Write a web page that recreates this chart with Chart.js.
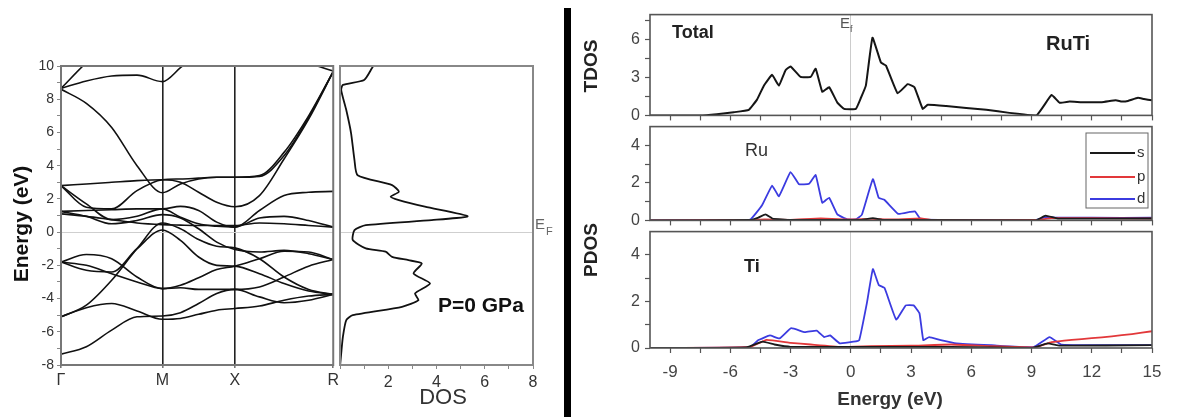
<!DOCTYPE html>
<html><head><meta charset="utf-8">
<script src="https://cdn.jsdelivr.net/npm/chart.js@4.4.1/dist/chart.umd.min.js"></script>
<style>
body{margin:0;background:#fff;width:1177px;height:417px;overflow:hidden;position:relative}
canvas{position:absolute}
#bar{position:absolute;left:564px;top:8px;width:7px;height:409px;background:#000}
</style></head><body>
<canvas id="cBand" width="342" height="417" style="left:0;top:0"></canvas>
<canvas id="cDos" width="230" height="417" style="left:336px;top:0"></canvas>
<div id="bar"></div>
<canvas id="cT" width="605" height="130" style="left:572px;top:0"></canvas>
<canvas id="cRu" width="605" height="123" style="left:572px;top:112px"></canvas>
<canvas id="cTi" width="605" height="200" style="left:572px;top:217px"></canvas>
<script>
// ---------- band structure data ----------
const kPositions = [0, 25.5, 51, 76.5, 102, 120.25, 138.5, 156.75, 175, 199.75, 224.5, 249.25, 274];
const kTickPositions = [0, 102, 175, 274];
const kTickLabels = ['Γ', 'M', 'X', 'R'];
const band1  = [-7.35,-6.9,-5.9,-5.1,-5.05, -4.85,-4.3,-3.7,-3.45, -3.9,-4.25,-4.1,-3.75];
const band2  = [-5.1,-4.55,-4.3,-4.75,-5.25, -5.2,-4.95,-4.7,-4.6, -4.45,-4.1,-3.85,-3.75];
const band3  = [-5.1,-4.4,-2.9,-1.0,0.55, 0.2,-0.45,-0.85,-0.95, -1.6,-2.7,-3.45,-3.75];
const band4  = [-1.8,-1.35,-1.6,-2.7,-3.4, -3.2,-2.75,-2.25,-2.05, -1.6,-1.15,-1.2,-1.65];
const band5  = [-1.8,-2.0,-2.5,-3.0,-3.4, -3.35,-3.45,-3.45,-3.45, -3.3,-2.7,-2.05,-1.65];
const band6  = [-1.8,-2.3,-2.4,-1.0,0.13, -0.5,-1.5,-2.0,-2.05, -2.5,-3.1,-3.55,-3.75];
const band7  = [1.25,0.95,0.5,0.7,1.05, 0.85,0.2,-0.6,-1.05, -1.2,-1.1,-1.3,-1.65];
const band8  = [1.25,1.3,1.35,1.4,1.4, 1.55,1.3,0.6,0.3, 1.3,2.2,2.4,2.45];
const band9  = [1.1,0.95,0.75,0.55,0.45, 0.42,0.4,0.4,0.4, 0.55,0.5,0.4,0.3];
const band10 = [2.8,1.7,0.75,0.95,1.4, 0.9,0.5,0.35,0.3, 0.85,0.95,0.7,0.3];
const band11 = [2.8,2.9,3.0,3.1,3.15, 3.0,2.4,1.8,1.53, 2.2,4.4,6.8,9.66];
const band12 = [8.6,7.75,6.3,4.0,2.37, 2.9,3.2,3.3,3.3, 3.4,4.8,7.0,9.66];
const band13 = [2.8,1.5,1.4,2.5,3.15, 3.2,3.25,3.3,3.3, 3.35,4.6,6.9,9.66];
const band14 = [8.65,9.1,9.4,9.45,9.06, 9.9,10.8,11.5,12, 12,11,10.2,9.7];
const band15 = [8.65,10.2,11.5,12,12.5, 13,13,13,13, 13,13,12,11];
const bandList = [band1,band2,band3,band4,band5,band6,band7,band8,band9,band10,band11,band12,band13,band14,band15];

// ---------- total DOS (left panel) ----------
const dosEnergy = [10.3,9.86,9.16,8.86,8.55,7.35,5.95,4.34,3.43,2.83,2.43,2.13,1.93,1.53,0.96,0.72,0.42,0.12,-0.48,-0.98,-1.18,-1.49,-1.69,-1.89,-2.49,-3.09,-3.69,-4.1,-4.5,-5.0,-5.3,-6.3,-7.3,-8.1];
const dosValue  = [1.5,1.32,1.0,0.12,0.05,0.26,0.46,0.6,0.73,2.16,2.44,2.1,2.44,3.52,5.29,3.8,1.07,0.6,0.53,1.07,1.89,2.16,2.84,3.39,3.05,3.73,3.11,3.25,2.57,0.53,0.26,0.12,0.05,0.0];
const dosTicks = [0,1,2,3,4,5,6,7,8];
const energyTicksLeft = [-8,-7,-6,-5,-4,-3,-2,-1,0,1,2,3,4,5,6,7,8,9,10];

// ---------- right panels ----------
const energyTicks = [-9,-7.5,-6,-4.5,-3,-1.5,0,1.5,3,4.5,6,7.5,9,10.5,12,13.5,15];
const tdosTicks = [0,1.5,3,4.5,6,7.5];
const pdosTicks = [0,1,2,3,4];
const tdosE = [-10,-7.5,-6.67,-5.83,-5.08,-4.67,-4.33,-3.92,-3.58,-3.25,-3.0,-2.5,-2.0,-1.75,-1.42,-1.08,-0.67,-0.33,0.25,0.5,0.75,1.08,1.5,1.75,2.33,2.83,3.17,3.58,3.83,4.75,6.75,7.9,9.25,10.0,10.4,10.9,11.5,12.5,13.2,13.5,13.8,14.3,14.6,15];
const tdosV = [0,0,0.1,0.25,0.44,1.25,2.36,3.22,2.36,3.59,3.88,3.05,3.05,3.71,1.87,2.24,1.01,0.52,0.52,1.38,2.36,6.17,4.2,3.96,1.75,2.48,2.24,0.52,0.84,0.74,0.44,0.2,0.0,1.62,1.0,1.1,1.05,1.05,1.2,1.1,1.15,1.4,1.3,1.2];
const ruSE = [-10,-5,-4.6,-4.25,-3.9,-3,0.5,1.1,1.6,3,9.2,9.7,10.3,15];
const ruSV = [0,0.02,0.15,0.32,0.1,0.03,0.03,0.12,0.03,0.02,0.0,0.25,0.1,0.1];
const ruPE = [-10,-5,-4.3,-3,-1.5,0,1,2,3.5,4,9.2,10,12,15];
const ruPV = [0,0.02,0.05,0.03,0.1,0.05,0.08,0.05,0.1,0.03,0.02,0.12,0.12,0.1];
const ruDE = [-10,-6,-5.0,-4.42,-3.92,-3.58,-3.0,-2.58,-2.08,-1.75,-1.42,-1.08,-0.67,-0.17,0.25,0.55,1.1,1.39,1.67,2.36,2.94,3.2,3.5,5,9.2,9.7,10.2,12,15];
const ruDV = [0,0.02,0.05,0.81,1.85,1.29,2.58,1.93,1.95,2.42,0.94,1.21,0.32,0.05,0.05,0.3,2.2,1.2,1.1,0.35,0.45,0.48,0.05,0.03,0.02,0.18,0.15,0.14,0.14];
const tiSE = [-10,-5.2,-4.4,-3.8,-3,0,3,5,9,9.8,10.4,15];
const tiSV = [0,0.03,0.27,0.15,0.05,0.05,0.05,0.05,0.0,0.2,0.1,0.12];
const tiPE = [-10,-5,-4.2,-3,-2,-0.5,1,3,5,7,9.2,10,11,12,13,14,15];
const tiPV = [0,0.05,0.35,0.22,0.15,0.05,0.08,0.1,0.15,0.08,0.03,0.25,0.35,0.42,0.5,0.6,0.72];
const tiDE = [-10,-6,-5.0,-4.6,-4.03,-3.55,-2.97,-2.29,-1.7,-1.32,-1.03,-0.55,0.13,0.42,0.81,1.1,1.39,1.68,2.26,2.74,3.13,3.42,3.61,3.9,4.48,5.26,7,9.1,9.9,10.5,12,15];
const tiDV = [0,0.02,0.05,0.34,0.54,0.41,0.85,0.68,0.75,0.47,0.54,0.2,0.27,0.34,1.97,3.39,2.71,2.58,1.22,1.83,1.83,1.49,0.34,0.47,0.34,0.2,0.12,0.04,0.47,0.14,0.12,0.12];

const FONT = "'Liberation Sans', Arial, sans-serif";
const CLR_S = '#1a1a1a', CLR_P = '#e2383a', CLR_D = '#3b3be0';

function pts(xs, ys){ return xs.map((x,i)=>({x:x, y:ys[i]})); }

const notesPlugin = {
  id:'notes',
  afterDraw(chart, args, o){
    const ctx = chart.ctx;
    (o.items||[]).forEach(it=>{
      ctx.save();
      ctx.font = it.font + ' ' + FONT;
      ctx.fillStyle = it.color || '#111';
      ctx.textAlign = it.align || 'left';
      ctx.textBaseline = 'middle';
      ctx.translate(it.x - o.ox, it.y - o.oy);
      if (it.rot) ctx.rotate(it.rot);
      ctx.fillText(it.text, 0, 0);
      ctx.restore();
    });
  }
};
const framePlugin = {
  id:'frame',
  afterDatasetsDraw(chart, args, o){
    const {left, top, right, bottom} = chart.chartArea;
    const ctx = chart.ctx;
    ctx.save();
    ctx.strokeStyle = o.color || '#555';
    ctx.lineWidth = o.width || 1.5;
    ctx.strokeRect(left, top, right-left, bottom-top);
    ctx.restore();
  }
};
const legendBoxPlugin = {
  id:'legendBox',
  afterDraw(chart, args, o){
    if (!o.show) return;
    const ctx = chart.ctx;
    const x = o.x - o.ox, y = o.y - o.oy;
    ctx.save();
    ctx.strokeStyle = '#666'; ctx.lineWidth = 1;
    ctx.strokeRect(x, y, o.w, o.h);
    chart.data.datasets.forEach((d,i)=>{
      const yy = y + o.rows[i];
      ctx.strokeStyle = d.borderColor; ctx.lineWidth = 2.2;
      ctx.beginPath(); ctx.moveTo(x+4, yy); ctx.lineTo(x+49, yy); ctx.stroke();
      ctx.fillStyle = '#333'; ctx.font = '15px ' + FONT;
      ctx.textAlign = 'left'; ctx.textBaseline = 'middle';
      ctx.fillText(d.label, x+51, yy);
    });
    ctx.restore();
  }
};

const transparent = 'rgba(0,0,0,0)';

// ---------- band chart ----------
new Chart(document.getElementById('cBand'), {
  type:'scatter',
  data:{ datasets: bandList.map((b,i)=>({
    label:'band'+(i+1), data: pts(kPositions, b), showLine:true,
    borderColor:'#111', borderWidth:1.6, pointRadius:0, cubicInterpolationMode:'monotone'
  }))},
  options:{
    responsive:false, animation:false, devicePixelRatio:1,
    layout:{ padding:{ top:66, right:7, left:0, bottom:0 } },
    plugins:{ legend:{display:false}, tooltip:{enabled:false},
      frame:{ color:'#777', width:2 },
      notes:{ ox:0, oy:0, items:[
        {text:'Energy (eV)', x:22, y:224, font:'bold 21px', rot:-Math.PI/2, align:'center', color:'#111'}
      ]}
    },
    scales:{
      x:{ type:'linear', min:0, max:274,
        afterBuildTicks(s){ s.ticks = kTickPositions.map(v=>({value:v})); },
        afterFit(s){ s.height = 52; },
        ticks:{ autoSkip:false, maxRotation:0, padding:3, color:'#333', font:{size:16, family:FONT},
          callback:(v)=>{ const i = kTickPositions.indexOf(v); return i>=0 ? kTickLabels[i] : ''; } },
        grid:{ tickLength:3, tickColor:'#777', lineWidth:1.6,
          color:(c)=> c.tick && (c.tick.value===102 || c.tick.value===175) ? '#222' : transparent },
        border:{display:false}
      },
      y:{ type:'linear', min:-8, max:10,
        afterBuildTicks(s){ s.ticks = energyTicksLeft.map(v=>({value:v})); },
        afterFit(s){ s.width = 61; },
        ticks:{ autoSkip:false, padding:3, color:'#333', font:{size:14, family:FONT},
          callback:(v)=> v%2===0 ? String(v) : '' },
        grid:{ tickLength:4, tickColor:'#888', lineWidth:1,
          color:(c)=> c.tick && c.tick.value===0 ? '#cfcfcf' : transparent },
        border:{display:false}
      }
    }
  },
  plugins:[framePlugin, notesPlugin]
});

// ---------- DOS chart (left) ----------
new Chart(document.getElementById('cDos'), {
  type:'scatter',
  data:{ datasets:[{ label:'DOS', data: pts(dosValue, dosEnergy), showLine:true,
    borderColor:'#111', borderWidth:1.8, pointRadius:0, tension:0.2 }]},
  options:{
    responsive:false, animation:false, devicePixelRatio:1,
    layout:{ padding:{ top:66, right:33, left:1, bottom:0 } },
    plugins:{ legend:{display:false}, tooltip:{enabled:false},
      frame:{ color:'#888', width:2 },
      notes:{ ox:336, oy:0, items:[
        {text:'E', x:535, y:225, font:'15px', color:'#666'},
        {text:'F', x:546, y:232, font:'11px', color:'#666'},
        {text:'P=0 GPa', x:438, y:306, font:'bold 21px', color:'#111'},
        {text:'DOS', x:443, y:398, font:'22px', align:'center', color:'#333'}
      ]}
    },
    scales:{
      x:{ type:'linear', min:0, max:8,
        afterBuildTicks(s){ s.ticks = dosTicks.map(v=>({value:v})); },
        afterFit(s){ s.height = 52; },
        ticks:{ autoSkip:false, maxRotation:0, padding:4, color:'#333', font:{size:16, family:FONT},
          callback:(v)=> (v>0 && v%2===0) ? String(v) : '' },
        grid:{ tickLength:4, tickColor:'#888', color:transparent },
        border:{display:false}
      },
      y:{ type:'linear', min:-8, max:10, display:true,
        afterFit(s){ s.width = 0; },
        ticks:{ display:false },
        grid:{ drawTicks:false, lineWidth:1,
          color:(c)=> c.tick && c.tick.value===0 ? '#cfcfcf' : transparent },
        border:{display:false}
      }
    }
  },
  plugins:[framePlugin, notesPlugin]
});

// ---------- right panel helpers ----------
function energyAxis(showLabels, height){
  return { type:'linear', min:-10, max:15,
    afterBuildTicks(s){ s.ticks = energyTicks.map(v=>({value:v})); },
    afterFit(s){ s.height = height; },
    ticks:{ autoSkip:false, maxRotation:0, padding:9, color:'#444', font:{size:17, family:FONT},
      callback:(v)=> (showLabels && v%3===0) ? String(v) : '' },
    grid:{ tickLength:5, tickColor:'#555', tickWidth:1.2, lineWidth:1,
      color:(c)=> c.tick && c.tick.value===0 ? '#cccccc' : transparent },
    border:{display:false}
  };
}
function dosAxis(max, ticks, every){
  return { type:'linear', min:0, max:max,
    afterBuildTicks(s){ s.ticks = ticks.map(v=>({value:v})); },
    afterFit(s){ s.width = 78; },
    ticks:{ autoSkip:false, padding:5, color:'#444', font:{size:16, family:FONT},
      callback:(v)=> (v%every===0) ? String(v) : '' },
    grid:{ tickLength:5, tickColor:'#555', tickWidth:1.2, color:transparent },
    border:{display:false}
  };
}
function line(label, xs, ys, color, w){
  return { label:label, data: pts(xs, ys), showLine:true, borderColor:color, borderWidth:w||1.8, pointRadius:0, tension:0.1 };
}

// ---------- TDOS ----------
new Chart(document.getElementById('cT'), {
  type:'scatter',
  data:{ datasets:[ line('Total', tdosE, tdosV, '#151515', 2) ]},
  options:{
    responsive:false, animation:false, devicePixelRatio:1,
    layout:{ padding:{ top:13, right:25, left:0, bottom:0 } },
    plugins:{ legend:{display:false}, tooltip:{enabled:false},
      frame:{ color:'#555', width:1.6 },
      notes:{ ox:572, oy:0, items:[
        {text:'TDOS', x:592, y:66, font:'bold 19px', rot:-Math.PI/2, align:'center', color:'#222'},
        {text:'Total', x:672, y:33, font:'bold 18px', color:'#222'},
        {text:'RuTi', x:1046, y:44, font:'bold 20px', color:'#222'},
        {text:'E', x:840, y:24, font:'15px', color:'#555'},
        {text:'f', x:850, y:30, font:'9px', color:'#555'}
      ]}
    },
    scales:{ x: energyAxis(false, 8), y: dosAxis(8, tdosTicks, 3) }
  },
  plugins:[framePlugin, notesPlugin]
});

// ---------- Ru PDOS ----------
new Chart(document.getElementById('cRu'), {
  type:'scatter',
  data:{ datasets:[ line('s', ruSE, ruSV, CLR_S), line('p', ruPE, ruPV, CLR_P), line('d', ruDE, ruDV, CLR_D) ]},
  options:{
    responsive:false, animation:false, devicePixelRatio:1,
    layout:{ padding:{ top:10, right:25, left:0, bottom:0 } },
    plugins:{ legend:{display:false}, tooltip:{enabled:false},
      frame:{ color:'#555', width:1.6 },
      notes:{ ox:572, oy:112, items:[
        {text:'Ru', x:745, y:151, font:'18px', color:'#333'}
      ]},
      legendBox:{ show:true, ox:572, oy:112, x:1086, y:133, w:62, h:75, rows:[20,44,66] }
    },
    scales:{ x: energyAxis(false, 8), y: dosAxis(5, pdosTicks, 2) }
  },
  plugins:[framePlugin, notesPlugin, legendBoxPlugin]
});

// ---------- Ti PDOS ----------
new Chart(document.getElementById('cTi'), {
  type:'scatter',
  data:{ datasets:[ line('s', tiSE, tiSV, CLR_S), line('p', tiPE, tiPV, CLR_P), line('d', tiDE, tiDV, CLR_D) ]},
  options:{
    responsive:false, animation:false, devicePixelRatio:1,
    layout:{ padding:{ top:10, right:25, left:0, bottom:0 } },
    plugins:{ legend:{display:false}, tooltip:{enabled:false},
      frame:{ color:'#555', width:1.6 },
      notes:{ ox:572, oy:217, items:[
        {text:'PDOS', x:592, y:250, font:'bold 19px', rot:-Math.PI/2, align:'center', color:'#222'},
        {text:'Ti', x:744, y:267, font:'bold 18px', color:'#222'},
        {text:'Energy (eV)', x:890, y:400, font:'bold 19px', align:'center', color:'#333'}
      ]}
    },
    scales:{ x: energyAxis(true, 69), y: dosAxis(5, pdosTicks, 2) }
  },
  plugins:[framePlugin, notesPlugin]
});
</script>
</body></html>
